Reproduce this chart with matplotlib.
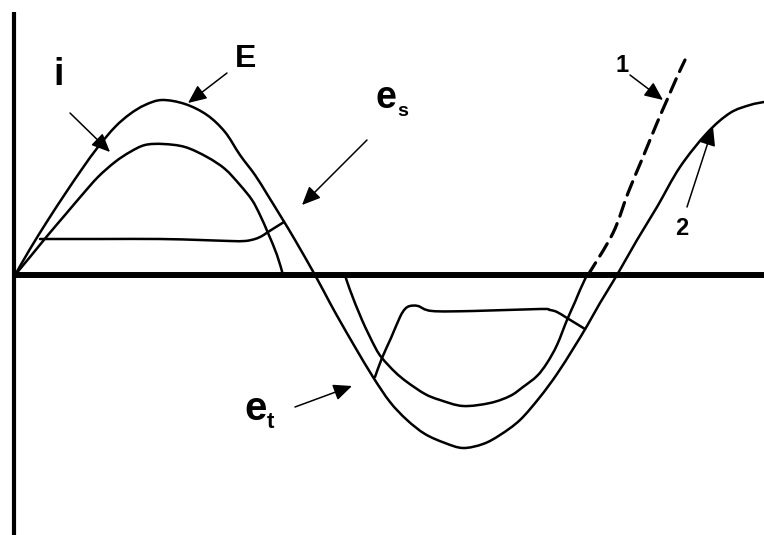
import matplotlib.pyplot as plt
from matplotlib.path import Path
from matplotlib.patches import PathPatch
import numpy as np

plt.rcParams['font.family'] = ['Liberation Sans', 'DejaVu Sans']

# values: x along the time axis, y above (+) / below (-) the time axis
E_x = [15, 30, 48, 65, 82, 98, 115, 130, 145, 162, 185, 207, 225, 240, 255, 267, 283, 295, 315,
       330, 340, 355, 373, 390, 407, 425, 445, 463, 483, 500, 520, 540, 557, 573, 587, 600, 617,
       637, 657, 680, 707, 730, 750, 764]
E_y = [0, 26, 55, 81, 106, 128, 148, 161, 170, 175, 171, 160, 143, 120, 100, 81, 55, 35, 0,
       -28, -46, -72, -102, -127, -145, -159, -168, -173, -169, -160, -145, -122, -99, -74, -51, -28, 0,
       35, 68, 108, 142, 162, 170, 173]

# current i, first half-wave
i1_x = [15, 30, 48, 65, 82, 98, 115, 130, 145, 163, 185, 207, 225, 240, 252, 260, 268, 277, 283]
i1_y = [0, 18, 40, 60, 80, 98, 113, 123, 130, 131, 128, 118, 106, 90, 75, 60, 42, 20, 0]

# current i, second half-wave
i2_x = [345, 350, 362, 375, 382, 395, 407, 425, 440, 463, 490, 510, 523, 537, 547, 557, 567, 575, 580, 587]
i2_y = [0, -15, -45, -72, -83, -97, -107, -119, -125, -131, -128, -121, -112, -101, -88, -70, -45, -27, -15, 0]

# plateau voltage, positive and negative half
p1_x = [40, 100, 160, 200, 230, 245, 255, 262, 268, 284]
p1_y = [36, 36, 36, 35, 34, 34, 36, 39, 43, 53]
p2_x = [375, 382, 391, 400, 405, 410, 418, 432, 473, 540, 550, 557, 567, 585]
p2_y = [-102, -83, -63, -42, -34, -31, -31, -36, -36, -34, -35, -37, -43, -54]

# curve 1 (dashed) after the zero crossing
c1_x = [588, 613, 628, 643, 657, 667, 677, 685]
c1_y = [0, 42, 82, 118, 152, 175, 198, 215]

fig = plt.figure(figsize=(7.64, 5.35), dpi=100)
ax = fig.add_axes([0, 0, 1, 1])
ax.set_xlim(0, 764)
ax.set_ylim(-260, 275)
ax.axis('off')

# axes of the diagram
ax.plot([13, 764], [0, 0], color='black', lw=4.3, solid_capstyle='butt')
ax.plot([14, 14], [263, -260], color='black', lw=3.0, solid_capstyle='butt')


def smooth(xs, ys, **kw):
    # smooth bezier path through the read points (catmull-rom)
    p = np.column_stack([xs, ys]).astype(float)
    ext = np.vstack([p[0], p, p[-1]])
    verts = [p[0]]
    codes = [Path.MOVETO]
    for k in range(len(p) - 1):
        a, b, c, d = ext[k], ext[k + 1], ext[k + 2], ext[k + 3]
        verts += [b + (c - a) / 6, c - (d - b) / 6, c]
        codes += [Path.CURVE4] * 3
    ax.add_patch(PathPatch(Path(verts, codes), fill=False, edgecolor='black',
                           capstyle='round', joinstyle='round', **kw))


lw = 1.8
smooth(E_x, E_y, lw=lw)
smooth(i1_x, i1_y, lw=lw)
smooth(i2_x, i2_y, lw=lw)
smooth(p1_x, p1_y, lw=lw)
smooth(p2_x, p2_y, lw=lw)
smooth(c1_x, c1_y, lw=2.3, linestyle=(0, (4.5, 2.5)))


def arrow(tail, tip):
    ax.annotate('', xy=tip, xytext=tail,
                arrowprops=dict(arrowstyle='-|>,head_length=0.45,head_width=0.2',
                                mutation_scale=25, lw=1.1, color='black',
                                shrinkA=0, shrinkB=0))

arrow((70, 162), (110, 123))
arrow((227, 202), (188, 172))
arrow((367, 135), (302, 70))
arrow((295, -132), (352, -111))
arrow((630, 200), (663, 175))
arrow((687, 68), (713, 148))

bold = dict(fontweight='bold', color='black', ha='center', va='baseline')
ax.text(59, 190, 'i', fontsize=27, **bold)
ax.text(246, 208, 'E', fontsize=23, **bold)
ax.text(386, 167, 'e', fontsize=27, **bold)
ax.text(403, 159, 's', fontsize=14, **bold)
ax.text(256, -145, 'e', fontsize=29, **bold)
ax.text(270, -153, 't', fontsize=16, **bold)
ax.text(622, 203, '1', fontsize=17, **bold)
ax.text(682, 40, '2', fontsize=17, **bold)

fig.savefig('out.png', dpi=100)
